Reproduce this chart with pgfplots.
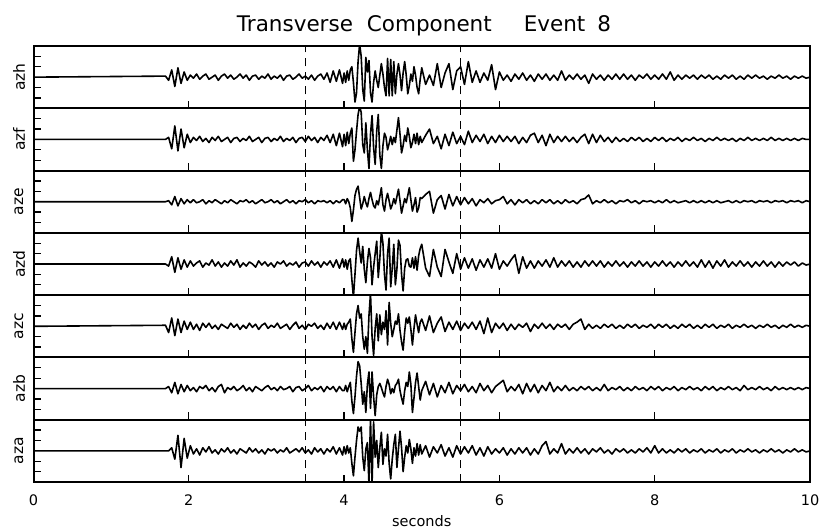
\documentclass[border=0pt]{standalone}
\usepackage{fontspec}
\setmainfont{DejaVu Sans}
\usepackage{pgfplots}
\usepackage{pgfplotstable}
\pgfplotsset{compat=1.18}

% seven stations, one column each, common time column t (s)
\pgfplotstableread{
t h f e d c b a
0.00 0 0 0 0 0 0 0
1.70 0.1 0.0 0.0 0.0 0.1 0.0 0.0
1.74 -0.3 0.2 0.1 -0.2 -0.6 0.2 0.0
1.78 0.7 -0.9 -0.3 0.7 0.8 -0.4 0.3
1.82 -0.9 1.3 0.5 -0.8 -0.9 0.6 -0.8
1.86 0.9 -1.1 -0.4 0.6 0.7 -0.5 1.5
1.90 -0.6 1.0 0.3 -0.5 -0.6 0.4 -1.6
1.94 0.5 -0.8 -0.2 0.4 0.5 -0.3 1.2
1.98 -0.3 0.5 0.2 -0.3 -0.3 0.3 -0.7
2.02 0.2 -0.3 -0.1 0.3 0.4 -0.2 0.5
2.06 -0.1 0.2 0.2 -0.2 -0.3 0.1 -0.3
2.10 0.3 -0.1 -0.1 0.1 0.2 -0.3 0.2
2.14 -0.2 0.3 0.0 0.3 -0.4 0.2 -0.4
2.18 0.1 -0.2 0.2 -0.3 0.3 0.0 0.3
2.22 0.3 0.1 -0.2 0.1 -0.1 0.3 -0.1
2.26 -0.2 -0.3 0.1 -0.1 0.3 -0.2 0.4
2.30 0.0 0.2 -0.1 0.4 -0.2 0.1 -0.2
2.34 0.2 -0.1 0.2 -0.2 0.1 -0.3 0.1
2.38 -0.3 0.3 0.0 0.2 -0.3 0.2 -0.3
2.42 0.1 -0.2 -0.2 -0.3 0.2 0.4 0.2
2.46 0.3 0.0 0.1 0.1 0.0 -0.4 -0.1
2.50 -0.1 0.2 -0.1 -0.2 -0.2 0.1 0.3
2.54 0.2 -0.3 0.2 0.3 0.3 -0.1 -0.2
2.58 -0.2 0.1 0.0 -0.1 -0.1 0.2 0.1
2.62 0.0 0.2 -0.2 0.4 0.2 -0.2 -0.3
2.66 0.3 -0.2 0.1 -0.3 -0.3 0.0 0.2
2.70 -0.1 0.1 0.0 0.1 0.1 0.3 0.0
2.74 0.2 -0.1 0.2 -0.2 -0.2 -0.2 -0.2
2.78 -0.3 0.3 -0.1 0.2 0.3 0.1 0.3
2.82 0.1 -0.2 0.1 0.0 -0.1 -0.3 -0.1
2.86 0.2 0.0 -0.2 -0.3 0.2 0.2 0.2
2.90 -0.2 0.2 0.0 0.3 -0.3 0.0 -0.2
2.94 0.1 -0.3 0.2 -0.1 0.1 -0.2 0.1
2.98 -0.1 0.1 -0.1 0.2 0.3 0.1 -0.3
3.02 0.3 0.2 0.0 -0.2 -0.2 0.3 0.2
3.06 -0.2 -0.2 0.2 0.1 0.1 -0.1 0.0
3.10 0.1 0.1 -0.1 -0.3 -0.1 0.1 0.2
3.14 -0.1 -0.1 0.1 0.2 0.3 -0.2 -0.2
3.18 0.2 0.3 -0.2 0.0 -0.2 0.2 0.1
3.22 -0.3 -0.2 0.0 0.3 0.0 -0.1 -0.1
3.26 0.1 0.1 0.2 -0.2 0.2 0.0 0.3
3.30 0.2 -0.1 -0.1 0.1 -0.3 0.2 -0.2
3.34 -0.2 0.2 0.1 -0.1 0.1 -0.3 0.0
3.38 0.0 -0.3 -0.2 0.2 0.4 0.1 0.2
3.42 0.3 0.1 0.1 -0.3 -0.2 0.2 -0.1
3.46 -0.1 0.2 0.0 0.1 0.1 -0.2 0.3
3.50 0.1 -0.2 0.2 0.2 -0.3 0.0 -0.2
3.54 -0.2 0.3 -0.1 -0.2 0.2 0.3 0.1
3.58 0.2 -0.1 0.1 0.3 0.0 -0.2 -0.3
3.62 -0.3 0.2 -0.2 -0.1 0.3 0.1 0.3
3.66 0.1 -0.3 0.1 0.2 -0.2 -0.1 -0.1
3.70 0.3 0.2 0.0 -0.3 0.1 0.2 0.2
3.74 -0.2 -0.1 0.1 0.2 -0.3 -0.3 -0.3
3.78 0.4 0.4 -0.1 -0.1 0.3 0.2 0.2
3.82 -0.5 -0.3 0.1 0.3 -0.2 -0.1 -0.1
3.86 0.6 0.5 -0.2 -0.3 0.4 0.2 0.4
3.90 -0.4 -0.6 0.1 0.4 -0.3 -0.3 -0.3
3.94 0.7 0.6 -0.1 -0.4 0.4 0.2 0.3
3.98 -0.6 -0.7 0.2 0.5 -0.3 -0.2 -0.4
4.00 0.4 0.5 0.2 -0.3 0.3 -0.2 0.4
4.02 -0.5 -0.6 -0.2 0.4 -0.3 0.3 -0.3
4.04 0.6 0.7 0.3 -0.5 0.2 -0.3 0.5
4.06 -0.3 -0.4 0.0 0.3 0.4 0.2 -0.2
4.08 0.7 0.6 -0.6 0.5 0.7 0.6 0.3
4.10 1.0 1.1 -1.9 -1.5 -1.2 -1.2 -1.2
4.12 -0.5 -2.1 -0.8 -3.2 -2.5 -2.4 -2.4
4.14 -2.4 -1.0 0.6 -1.0 -0.6 -0.8 -0.6
4.16 -1.5 0.8 1.2 1.3 1.2 1.2 1.0
4.18 1.5 2.4 1.5 2.5 2.0 2.6 2.3
4.20 3.2 3.2 0.4 1.2 0.8 2.2 1.9
4.22 2.0 2.6 -0.7 0.1 1.2 0.5 2.3
4.24 -1.2 -0.5 -0.2 1.7 -1.0 -1.5 -0.6
4.26 -2.3 -1.3 0.5 -0.5 -2.2 -0.3 -1.9
4.28 1.9 1.6 -0.1 -1.8 -1.0 -2.3 0.2
4.30 0.5 -1.0 -0.5 0.2 -2.6 0.4 0.8
4.32 1.6 -2.8 0.3 1.5 1.0 1.6 -3.2
4.34 -1.5 0.5 0.9 0.6 3.2 -1.9 3.2
4.36 -2.4 2.3 0.2 -2.0 -1.0 1.6 -3.2
4.38 -0.5 -0.8 -0.4 -0.3 -2.8 -0.8 2.8
4.40 0.6 -2.4 -0.6 1.0 -0.2 -2.6 -0.6
4.42 -0.3 0.8 0.1 2.2 1.2 -0.6 1.0
4.44 -1.0 2.4 -0.3 -1.3 -1.4 0.2 -1.6
4.46 0.2 -1.5 0.5 0.5 1.1 0.5 0.3
4.48 1.3 -2.8 1.35 3.2 -0.8 0.1 1.8
4.50 0.3 -0.6 -0.3 2.0 0.4 -0.4 -1.3
4.52 -1.0 0.6 -0.9 -1.0 -0.3 -0.8 0.2
4.54 -1.8 0.2 0.2 -2.5 1.5 0.2 -0.5
4.56 1.8 -1.0 0.8 1.0 -1.8 0.9 1.6
4.58 -1.8 -0.4 0.1 2.5 2.3 0.4 -1.2
4.60 1.7 0.3 -0.7 -2.2 0.3 -0.5 -2.7
4.62 -1.8 -0.5 -0.3 -0.4 -1.0 0.0 -0.8
4.64 1.5 0.2 0.3 1.9 -0.3 -0.4 0.6
4.66 -1.6 -0.3 -0.2 -2.0 0.5 0.3 1.6
4.68 0.3 0.9 0.5 -0.5 0.2 0.5 -1.6
4.70 1.3 2.1 1.2 2.3 1.2 0.9 0.2
4.72 0.2 0.5 0.1 1.8 -0.4 -0.2 1.9
4.74 -1.3 -1.3 -1.1 -1.0 -1.5 -0.9 0.3
4.76 0.4 -0.6 -0.4 -2.6 -2.3 -1.5 -2.0
4.78 1.5 0.4 0.3 -0.4 -0.5 -0.2 -0.6
4.80 0.2 -0.2 -0.1 0.4 0.8 0.6 0.5
4.82 -1.6 1.1 0.6 0.5 0.3 0.2 -0.2
4.84 -0.8 0.3 1.35 -0.2 0.9 1.6 1.1
4.86 0.3 -0.8 0.2 -0.3 -0.3 0.4 0.2
4.88 -0.4 -0.3 -0.9 0.6 -1.8 -2.3 -1.2
4.90 1.0 0.5 -0.3 -0.4 -0.2 -0.9 0.3
4.92 0.2 -0.4 0.4 0.7 1.1 0.6 -0.5
4.94 -1.0 0.6 -1.0 -0.6 0.2 1.5 0.7
4.96 -1.6 -0.5 -0.6 0.8 -0.6 0.2 -0.4
4.98 -0.2 0.3 0.4 1.5 0.4 -1.1 0.6
5.00 0.9 -0.3 0.3 1.9 0.7 -0.2 -0.3
5.05 -0.7 0.4 0.7 -0.4 -0.4 0.7 0.5
5.10 0.2 1.0 1.0 -1.2 1.0 -0.6 -0.6
5.15 -0.8 -0.4 -1.1 1.4 -0.6 0.5 0.4
5.20 1.3 0.3 0.2 -0.3 0.3 -0.8 -0.2
5.25 -1.0 -0.9 0.6 -1.2 0.9 0.3 0.6
5.30 0.4 0.5 -0.7 1.4 -0.5 -0.4 -0.5
5.35 1.3 -0.6 0.7 0.2 0.4 0.6 0.3
5.40 -1.2 0.7 -0.4 -0.9 -0.3 -0.5 -0.6
5.45 0.6 -0.4 0.5 1.0 0.5 0.3 0.5
5.50 1.0 0.3 -0.3 -0.5 -0.4 -0.2 -0.3
5.55 -0.7 -0.5 0.4 0.6 0.3 0.4 0.4
5.60 1.5 0.8 -0.2 -0.4 -0.2 -0.3 -0.2
5.65 -0.5 -0.3 0.3 0.5 0.4 0.2 0.5
5.70 0.6 0.4 -0.4 -0.6 -0.3 -0.4 -0.4
5.75 -0.5 -0.2 0.2 0.4 0.5 0.5 0.3
5.80 0.4 0.5 -0.1 -0.3 -0.7 -0.2 -0.5
5.85 -0.3 -0.4 0.3 0.5 0.8 0.3 0.4
5.90 1.2 0.3 -0.2 -0.4 -0.6 -0.4 -0.3
5.95 -1.2 -0.3 0.1 1.0 0.3 0.2 0.2
6.00 0.5 0.4 0.2 -0.5 -0.2 0.5 -0.2
6.05 -0.3 -0.2 0.5 0.3 0.3 0.8 0.3
6.10 0.2 0.3 -0.2 -0.2 -0.4 -0.3 -0.4
6.15 -0.4 -0.2 0.2 0.4 0.2 0.2 0.2
6.20 0.3 0.3 -0.3 0.9 -0.3 -0.2 -0.3
6.25 -0.2 -0.4 0.2 -0.9 0.2 0.4 0.3
6.30 0.4 0.2 -0.1 0.7 -0.1 -0.5 -0.2
6.35 -0.3 -0.3 0.2 -0.4 0.3 0.5 0.3
6.40 0.2 0.4 -0.2 0.3 -0.5 -0.3 -0.4
6.45 -0.4 0.6 0.1 -0.4 0.2 0.4 0.2
6.50 0.3 -0.3 -0.2 0.3 -0.2 -0.4 -0.3
6.55 -0.2 0.4 0.2 -0.2 0.3 0.3 0.5
6.60 0.3 -0.6 -0.1 0.4 -0.2 -0.2 0.9
6.65 -0.3 0.5 0.2 -0.3 0.2 0.6 -0.3
6.70 0.2 -0.3 -0.2 0.6 -0.3 -0.3 0.2
6.75 -0.3 0.3 0.1 -0.3 0.2 0.2 -0.2
6.80 0.6 -0.2 -0.2 0.3 -0.1 -0.2 0.7
6.85 -0.3 0.3 0.2 -0.2 0.2 0.3 -0.3
6.90 0.2 -0.2 -0.1 0.3 -0.3 -0.2 0.2
6.95 -0.2 0.2 0.1 -0.3 0.2 0.1 -0.2
7.00 0.3 -0.3 -0.2 0.2 0.4 -0.2 0.3
7.05 -0.2 0.2 0.2 -0.3 0.7 0.2 -0.2
7.10 0.2 0.5 0.3 0.3 -0.3 -0.1 0.2
7.15 -0.6 -0.4 0.65 -0.2 0.2 0.2 -0.3
7.20 0.3 0.5 -0.2 0.3 -0.2 -0.2 0.2
7.25 -0.2 -0.3 0.1 -0.2 0.1 0.1 -0.1
7.30 0.2 0.4 -0.1 0.3 -0.2 -0.2 0.3
7.35 -0.3 -0.2 0.2 -0.3 0.2 0.4 -0.2
7.40 0.2 0.2 -0.1 0.2 -0.1 -0.2 0.1
7.45 -0.2 -0.3 0.1 -0.2 0.2 0.1 -0.3
7.50 0.3 0.2 -0.2 0.3 -0.2 -0.1 0.2
7.55 -0.2 -0.2 0.1 -0.2 0.1 0.2 -0.1
7.60 0.3 0.1 0.0 0.2 -0.2 -0.2 0.2
7.65 -0.2 -0.2 0.2 -0.3 0.2 0.1 -0.2
7.70 0.2 0.2 -0.1 0.2 -0.1 -0.2 0.1
7.75 -0.3 -0.1 0.1 -0.2 0.2 0.2 -0.2
7.80 0.2 0.2 -0.2 0.3 -0.2 -0.1 0.2
7.85 -0.1 -0.2 0.1 -0.2 0.1 0.1 -0.1
7.90 0.3 0.1 0.0 0.2 -0.1 -0.2 0.3
7.95 -0.2 -0.2 0.1 -0.3 0.2 0.2 -0.2
8.00 0.2 0.2 -0.1 0.2 -0.2 -0.1 0.5
8.05 -0.2 -0.1 0.1 -0.2 0.2 0.2 -0.2
8.10 0.3 0.2 -0.1 0.3 -0.1 -0.2 0.2
8.15 -0.2 -0.2 0.2 -0.2 0.2 0.1 -0.2
8.20 0.5 0.1 -0.1 0.2 -0.2 -0.1 0.1
8.25 -0.3 -0.1 0.1 -0.3 0.1 0.2 -0.2
8.30 0.2 0.2 -0.1 0.2 -0.2 -0.2 0.2
8.35 -0.2 -0.2 0.0 -0.2 0.2 0.1 -0.1
8.40 0.2 0.1 0.1 0.3 -0.1 -0.1 0.2
8.45 -0.1 -0.1 -0.1 -0.2 0.2 0.2 -0.2
8.50 0.2 0.2 0.1 0.2 -0.2 -0.1 0.1
8.55 -0.2 -0.1 -0.1 -0.3 0.1 0.1 -0.1
8.60 0.2 0.1 0.1 0.4 -0.2 -0.2 0.2
8.65 -0.1 -0.2 -0.1 -0.3 0.2 0.2 -0.2
8.70 0.2 0.1 0.1 0.3 -0.1 -0.1 0.1
8.75 -0.2 -0.1 -0.1 -0.4 0.2 0.2 -0.1
8.80 0.1 0.2 0.1 0.3 -0.2 -0.2 0.2
8.85 -0.2 -0.1 -0.1 -0.2 0.1 0.1 -0.2
8.90 0.2 0.1 0.0 0.4 -0.1 -0.1 0.1
8.95 -0.1 -0.1 0.1 -0.3 0.2 0.2 -0.1
9.00 0.2 0.1 -0.1 0.2 -0.2 -0.1 0.2
9.05 -0.2 -0.2 0.1 -0.2 0.1 0.1 -0.2
9.10 0.1 0.1 -0.1 0.3 -0.1 -0.2 0.1
9.15 -0.2 -0.1 0.1 -0.2 0.2 0.3 -0.1
9.20 0.2 0.2 0.0 0.2 -0.1 -0.1 0.2
9.25 -0.1 -0.1 0.1 -0.3 0.1 0.1 -0.1
9.30 0.2 0.1 -0.1 0.2 -0.2 -0.1 0.1
9.35 -0.1 -0.1 0.1 -0.2 0.1 0.2 -0.2
9.40 0.1 0.1 0.0 0.3 -0.1 -0.1 0.1
9.45 -0.2 -0.1 0.1 -0.2 0.2 0.1 -0.1
9.50 0.1 0.2 -0.1 0.2 -0.1 -0.2 0.2
9.55 -0.1 -0.1 0.1 -0.3 0.1 0.2 -0.1
9.60 0.2 0.1 0.0 0.2 -0.2 -0.1 0.1
9.65 -0.1 -0.1 0.1 -0.2 0.1 0.1 -0.2
9.70 0.1 0.1 -0.1 0.2 -0.1 -0.1 0.1
9.75 -0.2 -0.1 0.1 -0.1 0.2 0.1 -0.1
9.80 0.1 0.1 0.0 0.2 -0.1 -0.1 0.2
9.85 -0.1 -0.1 0.1 -0.2 0.1 0.1 -0.1
9.90 0.1 0.1 -0.1 0.1 -0.1 -0.1 0.1
9.95 -0.1 0.0 0.1 -0.1 0.1 0.1 -0.1
10.00 0.0 0.0 0.0 0.0 0.0 0.0 0.0
}\traces

\pgfplotsset{
  panel/.style={
    width=776.5pt, height=62.29pt, scale only axis,
    anchor=north west,
    xmin=0, xmax=10, ymin=-3, ymax=3,
    xtick={0,2,4,6,8,10}, ytick={-2,-1,1,2},
    xticklabels={}, yticklabels={},
    tick pos=left, tick align=inside,
    major tick length=7.5pt,
    every tick/.style={black, line width=1.3pt},
    axis line style={line width=2pt},
    ylabel style={at={(axis description cs:-0.0187,0.5)}, anchor=center,
      font=\fontsize{15.5}{17}\selectfont},
  },
  trace/.style={black, line width=1.6pt, line join=round, no markers},
  cut/.style={black, line width=1.5pt, dash pattern=on 8pt off 6pt, no markers},
}

\begin{document}
\begin{tikzpicture}
\begin{axis}[panel, at={(0pt,0pt)}, ylabel={azh}]
  \addplot[cut] coordinates {(3.5,-3) (3.5,3)};
  \addplot[cut] coordinates {(5.5,-3) (5.5,3)};
  \addplot[trace] table[x=t, y=h] {\traces};
\end{axis}
\begin{axis}[panel, at={(0pt,-62.29pt)}, ylabel={azf}]
  \addplot[cut] coordinates {(3.5,-3) (3.5,3)};
  \addplot[cut] coordinates {(5.5,-3) (5.5,3)};
  \addplot[trace] table[x=t, y=f] {\traces};
\end{axis}
\begin{axis}[panel, at={(0pt,-124.58pt)}, ylabel={aze}]
  \addplot[cut] coordinates {(3.5,-3) (3.5,3)};
  \addplot[cut] coordinates {(5.5,-3) (5.5,3)};
  \addplot[trace] table[x=t, y=e] {\traces};
\end{axis}
\begin{axis}[panel, at={(0pt,-186.87pt)}, ylabel={azd}]
  \addplot[cut] coordinates {(3.5,-3) (3.5,3)};
  \addplot[cut] coordinates {(5.5,-3) (5.5,3)};
  \addplot[trace] table[x=t, y=d] {\traces};
\end{axis}
\begin{axis}[panel, at={(0pt,-249.16pt)}, ylabel={azc}]
  \addplot[cut] coordinates {(3.5,-3) (3.5,3)};
  \addplot[cut] coordinates {(5.5,-3) (5.5,3)};
  \addplot[trace] table[x=t, y=c] {\traces};
\end{axis}
\begin{axis}[panel, at={(0pt,-311.45pt)}, ylabel={azb}]
  \addplot[cut] coordinates {(3.5,-3) (3.5,3)};
  \addplot[cut] coordinates {(5.5,-3) (5.5,3)};
  \addplot[trace] table[x=t, y=b] {\traces};
\end{axis}
\begin{axis}[panel, at={(0pt,-373.74pt)}, ylabel={aza},
    xticklabels={0,2,4,6,8,10},
    xticklabel style={font=\fontsize{14.5}{16}\selectfont, yshift=-9pt},
    xlabel={seconds},
    xlabel style={at={(axis description cs:0.5,0)}, anchor=base, yshift=-44pt,
      font=\fontsize{14.5}{16}\selectfont}]
  \addplot[cut] coordinates {(3.5,-3) (3.5,3)};
  \addplot[cut] coordinates {(5.5,-3) (5.5,3)};
  \addplot[trace] table[x=t, y=a] {\traces};
\end{axis}
\node[anchor=base, font=\fontsize{21.5}{25}\selectfont] at (390.5pt,14.3pt)
  {Transverse\hspace{14pt}Component\hspace{32pt}Event\hspace{12pt}8};
\pgfresetboundingbox
\path (-33.5pt,46pt) rectangle (788.5pt,-482pt);
\end{tikzpicture}
\end{document}
